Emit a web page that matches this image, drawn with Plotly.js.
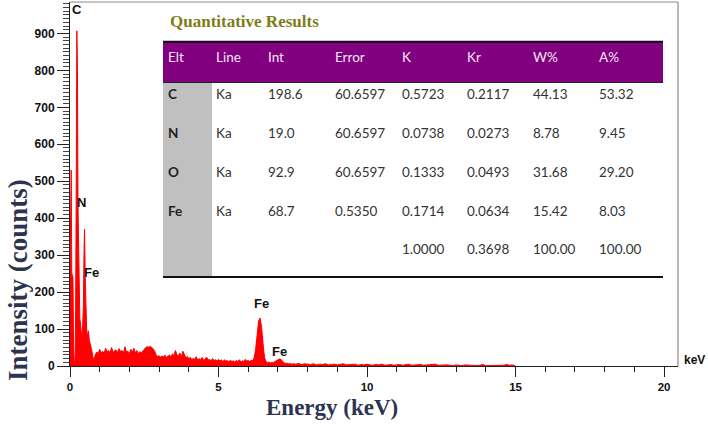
<!DOCTYPE html>
<html>
<head>
<meta charset="utf-8">
<script src="https://cdn.plot.ly/plotly-3.0.1.min.js"></script>
<style>html,body{margin:0;padding:0;background:#fff;}#chart{width:708px;height:424px;}</style>
</head>
<body>
<div id="chart"></div>
<script>
// ---- Spectrum data ----
const energyKeV = [
  0.00,0.04,0.06,0.10,0.12,0.14,0.17,0.19,0.21,0.23,0.25,0.27,0.29,0.31,0.33,0.36,0.39,0.42,0.45,0.47,0.49,0.51,0.53,0.56,0.59,0.62,0.65,0.68,0.71,0.74,0.77,0.80,
  0.85,0.90,0.95,1.00,1.05,1.10,1.15,1.20,1.25,1.30,1.35,1.40,1.45,1.50,1.55,1.60,1.65,1.70,1.75,1.80,1.85,1.90,1.95,2.00,
  2.05,2.10,2.15,2.20,2.25,2.30,2.35,2.40,2.45,2.50,2.55,2.60,2.65,2.70,2.75,2.80,2.85,2.90,2.95,3.00,
  3.05,3.10,3.15,3.20,3.25,3.30,3.35,3.40,3.45,3.50,3.55,3.60,3.65,3.70,3.75,3.80,3.85,3.90,3.95,4.00,
  4.05,4.10,4.15,4.20,4.25,4.30,4.35,4.40,4.45,4.50,4.55,4.60,4.65,4.70,4.75,4.80,4.85,4.90,4.95,5.00,
  5.05,5.10,5.15,5.20,5.25,5.30,5.35,5.40,5.45,5.50,5.55,5.60,5.65,5.70,5.75,5.80,5.85,5.90,5.95,6.00,
  6.05,6.10,6.15,6.20,6.25,6.30,6.35,6.40,6.45,6.50,6.55,6.60,6.65,6.70,6.75,6.80,6.85,6.90,6.95,7.00,
  7.05,7.10,7.15,7.20,7.25,7.30,7.35,7.40,7.45,7.50,
  7.6,7.7,7.8,7.9,8.0,8.1,8.2,8.3,8.4,8.5,8.6,8.7,8.8,8.9,9.0,9.1,9.2,9.3,9.4,9.5,9.6,9.7,9.8,9.9,10.0,
  10.1,10.2,10.3,10.4,10.5,10.6,10.7,10.8,10.9,11.0,11.1,11.2,11.3,11.4,11.5,11.6,11.7,11.8,11.9,12.0,
  12.1,12.2,12.3,12.4,12.5,12.6,12.7,12.8,12.9,13.0,13.1,13.2,13.3,13.4,13.5,13.6,13.7,13.8,13.9,14.0,
  14.1,14.2,14.3,14.4,14.5,14.6,14.7,14.8,14.9,15.0
];
const countsCps = [
  250,530,250,240,60,15,12,150,493,907,808,430,300,180,130,110,80,95,160,300,370,250,140,100,80,95,70,60,55,40,25,15,
  30,38,33,45,36,40,34,48,38,42,35,50,37,41,44,36,47,39,42,35,52,38,40,34,
  45,37,48,36,42,33,39,35,41,46,50,52,51,53,50,47,40,30,26,28,
  24,27,25,29,23,26,30,24,33,28,42,31,27,35,25,40,29,22,26,19,
  24,17,21,18,25,16,20,17,23,15,19,24,16,18,14,20,15,17,13,18,
  14,16,12,17,13,15,11,16,12,14,10,15,12,17,11,14,12,18,13,15,
  12,16,14,22,45,95,122,130,105,60,22,12,9,11,8,10,9,12,14,17,
  19,18,13,9,7,8,6,7,5,6,
  5,7,4,6,5,4,6,3,5,4,6,3,4,5,3,4,6,3,4,3,5,2,4,3,5,
  3,2,4,3,5,2,3,4,2,3,4,2,3,5,2,3,2,4,2,3,
  2,3,5,2,3,2,3,2,1,3,2,1,3,2,1,2,1,2,4,1,
  1,2,1,1,3,2,4,2,3,0
];
const xTickVals = [0,5,10,15,20];
const yTickVals = [0,100,200,300,400,500,600,700,800,900];

// ---- Quantitative results table ----
const tableHeaders = ['Elt','Line','Int','Error','K','Kr','W%','A%'];
const elements   = ['C','N','O','Fe',''];
const lineNames  = ['Ka','Ka','Ka','Ka',''];
const intValues  = ['198.6','19.0','92.9','68.7',''];
const errValues  = ['60.6597','60.6597','60.6597','0.5350',''];
const kValues    = ['0.5723','0.0738','0.1333','0.1714','1.0000'];
const krValues   = ['0.2117','0.0273','0.0493','0.0634','0.3698'];
const wPctValues = ['44.13','8.78','31.68','15.42','100.00'];
const aPctValues = ['53.32','9.45','29.20','8.03','100.00'];

// ---- Peak labels ----
const peakLabels = ['C','N','Fe','Fe','Fe'];

// layout geometry (pixels)
const M = {l:70, r:30, t:2, b:58};
const W = 708, H = 424;
const PW = W - M.l - M.r, PH = H - M.t - M.b;
const px = x => (x - M.l) / PW;
const py = y => (H - M.b - y) / PH;

const labelPos = [[77,9],[81,202],[91,272],[261,303],[279,351]];

const spectrum = {
  type:'scatter', mode:'lines', x: energyKeV, y: countsCps,
  line:{color:'#ff0000', width:1}, fill:'tozeroy', fillcolor:'#ff0000',
  hoverinfo:'skip', showlegend:false
};

const clear = 'rgba(0,0,0,0)';
const tblFamily = 'Lato, "Open Sans", sans-serif';
const colEdges = [160,208,260,327,394,459,525,591,660];
const colWidths = colEdges.slice(1).map((e,i) => e - colEdges[i]);
const headTop = 43.5, headH = 37.5, rowH = 38.8, tblBottom = headTop + headH + 5*rowH;

const makeTable = (x0, x1, widths, headers, cols, weight) => ({
  type:'table',
  domain:{x:[px(x0), px(x1)], y:[py(tblBottom), py(headTop)]},
  columnwidth: widths,
  header:{
    values: headers, align:'left', height:headH,
    fill:{color:clear}, line:{width:0, color:clear},
    font:{family:tblFamily, size:13.5, color:'#f6e6f6'}
  },
  cells:{
    values: cols, align:'left', height:rowH,
    fill:{color:clear}, line:{width:0, color:clear},
    font:{family:tblFamily, size:13.5, color: weight==='bold' ? '#222222' : '#333333', weight:weight}
  }
});

const tableElt = makeTable(colEdges[0], colEdges[1], [colWidths[0]], [tableHeaders[0]], [elements], 'bold');
const tableRest = makeTable(colEdges[1], colEdges[8], colWidths.slice(1), tableHeaders.slice(1),
  [lineNames, intValues, errValues, kValues, krValues, wPctValues, aPctValues], 'normal');

const annFont = {family:'"Liberation Sans", Arial, sans-serif', size:13, color:'#111', weight:'bold'};
const annotations = peakLabels.map((t,i) => ({
  text:t, xref:'paper', yref:'paper', x:px(labelPos[i][0]), y:py(labelPos[i][1]),
  xanchor:'center', yanchor:'middle', showarrow:false, font:annFont
}));
annotations.push({text:'keV', xref:'paper', yref:'paper', x:px(694), y:py(360), xanchor:'center', yanchor:'middle', showarrow:false,
  font:{family:'"Liberation Sans", Arial, sans-serif', size:12, color:'#111', weight:'bold'}});
annotations.push({text:'Quantitative Results', xref:'paper', yref:'paper', x:px(168), y:py(21), xanchor:'left', yanchor:'middle', showarrow:false,
  font:{family:'"Liberation Serif", "Times New Roman", serif', size:17, color:'#7d7d18', weight:'bold'}});
annotations.push({text:'Energy (keV)', xref:'paper', yref:'paper', x:px(332), y:py(407), xanchor:'center', yanchor:'middle', showarrow:false,
  font:{family:'"Liberation Serif", "Times New Roman", serif', size:23, color:'#2c3450', weight:'bold'}});
annotations.push({text:'Intensity (counts)', xref:'paper', yref:'paper', x:px(18), y:py(280), xanchor:'center', yanchor:'middle', textangle:-90, showarrow:false,
  font:{family:'"Liberation Serif", "Times New Roman", serif', size:27, color:'#2c3450', weight:'bold'}});

const lineShape = (x0,y0,x1,y1,color,width) => ({type:'line', xref:'paper', yref:'paper', x0:px(x0), y0:py(y0), x1:px(x1), y1:py(y1), line:{color, width}, layer:'above'});
const rectShape = (x0,y0,x1,y1,color) => ({type:'rect', xref:'paper', yref:'paper', x0:px(x0), y0:py(y0), x1:px(x1), y1:py(y1), fillcolor:color, line:{width:0}, layer:'below'});

const tickFontY = {family:'"Liberation Sans", Arial, sans-serif', size:12, color:'#111', weight:'bold'};
const tickFontX = {family:'"Liberation Sans", Arial, sans-serif', size:11.5, color:'#111', weight:'bold'};

const layout = {
  width:W, height:H,
  margin:M,
  paper_bgcolor:'#ffffff', plot_bgcolor:'#ffffff',
  showlegend:false,
  xaxis:{
    range:[0, 20.47], tickvals:xTickVals, ticktext:xTickVals.map(String),
    ticks:'outside', ticklen:10, tickwidth:1, tickcolor:'#222',
    showline:true, linecolor:'#222', linewidth:1,
    showgrid:false, zeroline:false, tickfont:tickFontX,
    minor:{dtick:1, ticks:'outside', ticklen:5, tickcolor:'#222', showgrid:false}
  },
  yaxis:{
    range:[0, 985], tickvals:yTickVals, ticktext:yTickVals.map(String),
    ticks:'outside', ticklen:12, tickwidth:1, tickcolor:'#222',
    showline:true, linecolor:'#222', linewidth:1,
    showgrid:false, zeroline:false, tickfont:tickFontY,
    minor:{dtick:10, ticks:'outside', ticklen:6, tickcolor:'#444', showgrid:false}
  },
  shapes:[
    rectShape(163, 41.7, 663, 82.7, '#800080'),
    rectShape(163, 82.7, 212, 277, '#c0c0c0'),
    lineShape(70, 2, 678, 2, '#8a8a8a', 1.2),
    lineShape(678, 2, 678, 366, '#8a8a8a', 1.2),
    lineShape(163, 41.7, 663, 41.7, '#111', 2),
    lineShape(163, 82.5, 663, 82.5, '#222', 1),
    lineShape(163, 277, 663, 277, '#111', 2)
  ],
  annotations
};

Plotly.newPlot('chart', [spectrum, tableElt, tableRest], layout, {staticPlot:true, displayModeBar:false});
</script>
</body>
</html>
